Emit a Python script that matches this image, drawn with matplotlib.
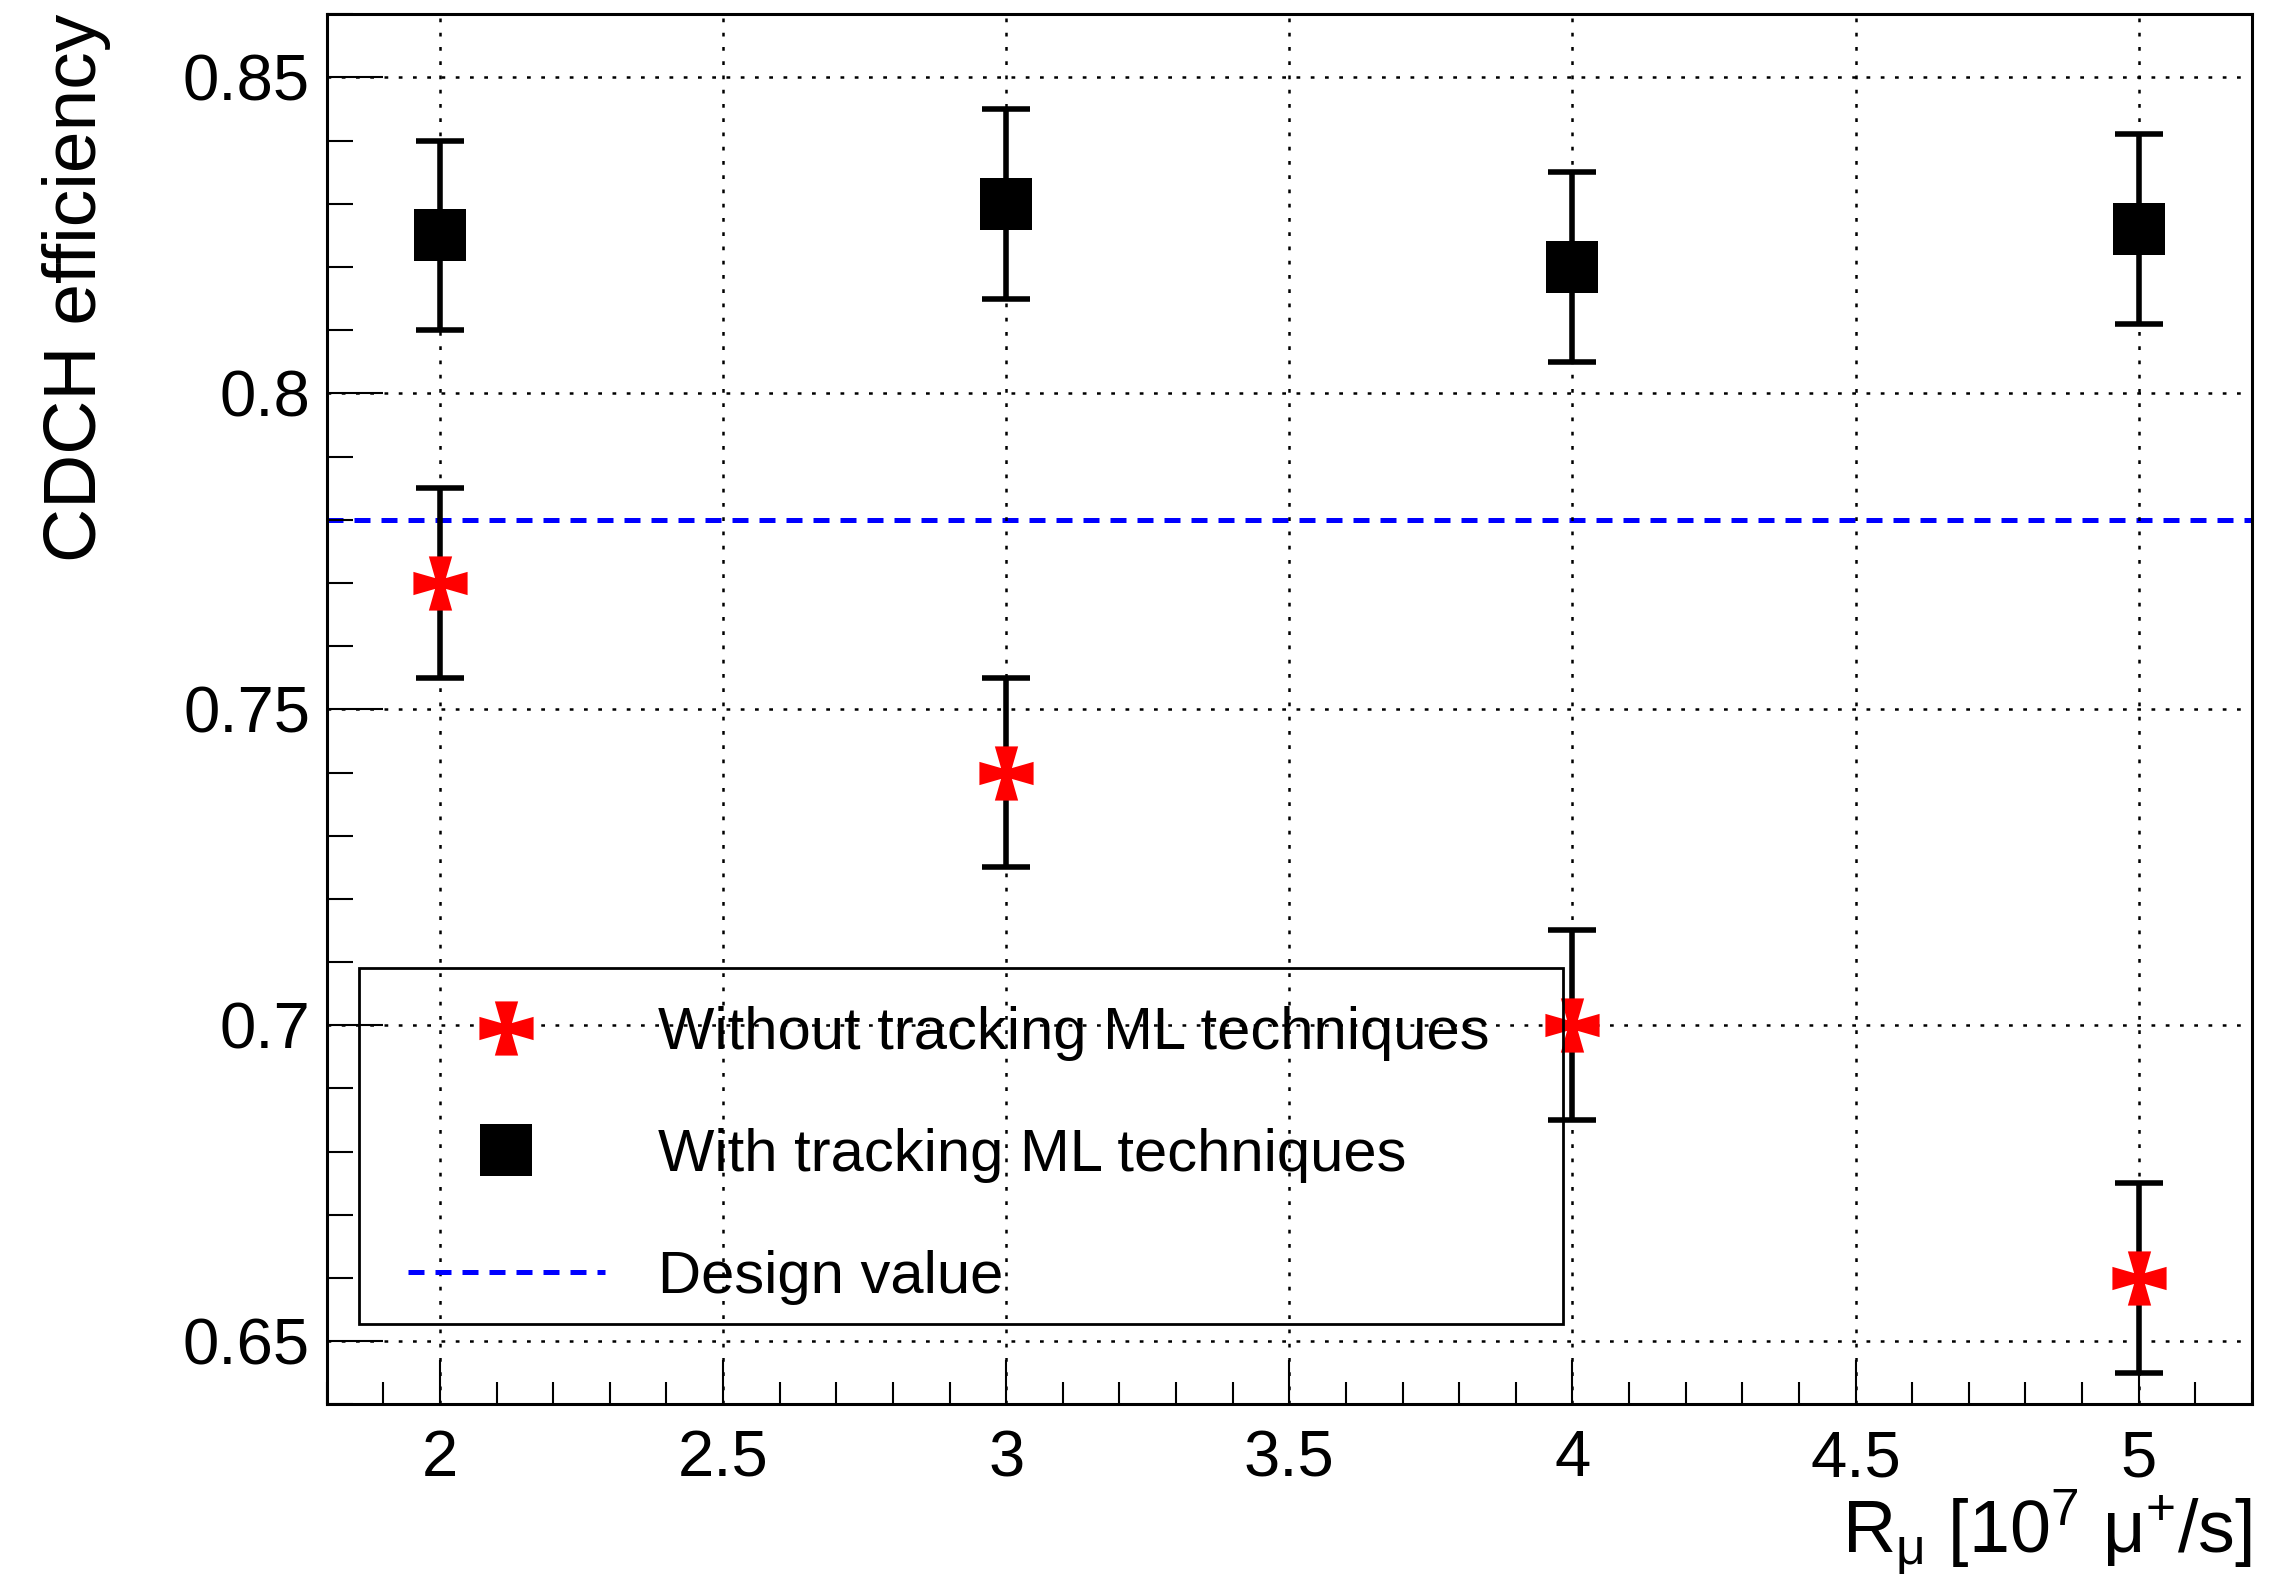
import matplotlib as mpl
mpl.use('Agg')

import matplotlib.pyplot as plt
import matplotlib.patches as patches
from matplotlib.path import Path
from matplotlib.ticker import MultipleLocator, FormatStrFormatter
import numpy as np

# muon stopping rate [1e7 mu+/s]
rate = [2, 3, 4, 5]

# CDCH efficiency without / with the ML tracking
eff_no_ml = [0.770, 0.740, 0.700, 0.660]
err_no_ml = [0.015, 0.015, 0.015, 0.015]
eff_ml = [0.825, 0.830, 0.820, 0.826]
err_ml = [0.015, 0.015, 0.015, 0.015]

design_value = 0.78

plt.rcParams['font.family'] = ['Liberation Sans', 'DejaVu Sans']
plt.rcParams['mathtext.fontset'] = 'custom'
plt.rcParams['mathtext.rm'] = 'Liberation Sans'
plt.rcParams['mathtext.it'] = 'Liberation Sans'


def cross_pattee(a=0.43, b=0.2):
    # filled cross with flared arms (like ROOT's full cross marker)
    verts = [(-a, 1), (a, 1), (b, b), (1, a), (1, -a), (b, -b),
             (a, -1), (-a, -1), (-b, -b), (-1, -a), (-1, a), (-b, b),
             (-a, 1)]
    codes = [Path.MOVETO] + [Path.LINETO] * 11 + [Path.CLOSEPOLY]
    return Path(verts, codes)


fig = plt.figure(figsize=(22.69, 15.78), dpi=100)
ax = fig.add_axes([0.144, 0.110, 0.8485, 0.881])

ax.errorbar(rate, eff_no_ml, yerr=err_no_ml, fmt='none', ecolor='black',
            elinewidth=4, capsize=17, capthick=4, zorder=3)
ax.plot(rate, eff_no_ml, linestyle='none', marker=cross_pattee(),
        markersize=39, color='red', markeredgewidth=0, zorder=4,
        label='Without tracking ML techniques')

ax.errorbar(rate, eff_ml, yerr=err_ml, fmt='none', ecolor='black',
            elinewidth=4, capsize=17, capthick=4, zorder=3)
ax.plot(rate, eff_ml, linestyle='none', marker='s', markersize=38,
        color='black', markeredgewidth=0, zorder=4,
        label='With tracking ML techniques')

ax.axhline(design_value, color='#0000ff', linewidth=3.6, linestyle=(0, (3.2, 2.2)),
           zorder=2, label='Design value')

ax.set_xlim(1.8, 5.2)
ax.set_ylim(0.64, 0.86)

ax.xaxis.set_major_locator(MultipleLocator(0.5))
ax.xaxis.set_minor_locator(MultipleLocator(0.1))
ax.yaxis.set_major_locator(MultipleLocator(0.05))
ax.yaxis.set_minor_locator(MultipleLocator(0.01))
ax.xaxis.set_major_formatter(FormatStrFormatter('%g'))
ax.yaxis.set_major_formatter(FormatStrFormatter('%g'))

ax.tick_params(axis='both', which='both', direction='in', width=1.5,
               top=False, right=False, labelsize=47, colors='black')
ax.tick_params(axis='x', which='major', length=32, pad=18)
ax.tick_params(axis='x', which='minor', length=16)
ax.tick_params(axis='y', which='major', length=40, pad=12)
ax.tick_params(axis='y', which='minor', length=19)

for sp in ax.spines.values():
    sp.set_linewidth(2.2)

ax.grid(True, which='major', color='black', linewidth=1.8,
        linestyle=(0, (1.5, 4.2)), zorder=1)
ax.set_axisbelow(False)

ax.set_xlabel(r'R$_\mathrm{μ}$ [10$^\mathrm{7}$ μ$^\mathrm{+}$/s]', fontsize=53, loc='right')
ax.xaxis.set_label_coords(1.0, -0.060)
ax.set_ylabel('CDCH efficiency', fontsize=54, loc='top')
ax.yaxis.set_label_coords(-0.112, 1.0)

# legend entries without frame, box drawn separately (transparent, grid shows through)
leg = ax.legend(loc='upper left', bbox_to_anchor=(0.0234, 0.3125),
                fontsize=43, frameon=False, borderpad=0.6, labelspacing=1.12,
                handlelength=3.3, handletextpad=0.9, borderaxespad=0)
leg.set_zorder(5)
box = patches.Rectangle((0.0166, 0.0576), 0.6254, 0.2564, transform=ax.transAxes,
                        facecolor='none', edgecolor='black', linewidth=2.0,
                        zorder=5, clip_on=False)
ax.add_patch(box)

fig.savefig('out.png', dpi=100)
